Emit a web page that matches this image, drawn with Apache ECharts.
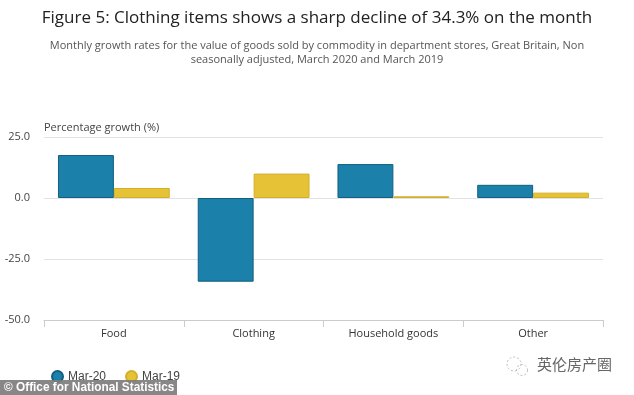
<!DOCTYPE html>
<html>
<head>
<meta charset="utf-8">
<script src="https://cdn.jsdelivr.net/npm/echarts@6/dist/echarts.min.js"></script>
<style>html,body{margin:0;padding:0;background:#fff}#c{width:634px;height:395px}</style>
</head>
<body>
<div id="c"></div>
<script>
var categories = ['Food', 'Clothing', 'Household goods', 'Other'];
var mar20 = [17.6, -34.3, 13.9, 5.4];
var mar19 = [4.1, 10.0, 0.7, 2.2];
var seriesNames = ['Mar-20', 'Mar-19'];
var yTicks = [-50, -25, 0, 25];

var chart = echarts.init(document.getElementById('c'));
var font = '"Open Sans", "Noto Sans", sans-serif';
chart.setOption({
  animation: false,
  textStyle: {fontFamily: font},
  title: [{
    text: 'Figure 5: Clothing items shows a sharp decline of 34.3% on the month',
    left: 'center', top: 5,
    textStyle: {fontSize: 17, fontWeight: 'normal', color: '#222', fontFamily: font}
  }, {
    text: 'Monthly growth rates for the value of goods sold by commodity in department stores, Great Britain, Non\nseasonally adjusted, March 2020 and March 2019',
    left: 'center', top: 34,
    textStyle: {fontSize: 11, fontWeight: 'normal', color: '#555', lineHeight: 14, fontFamily: font, align: 'center'}
  }],
  grid: {left: 44, right: 31, top: 137, bottom: 75, containLabel: false},
  legend: {
    data: seriesNames, left: 46, top: 365, icon: 'circle', itemWidth: 11, itemHeight: 11, itemGap: 19,
    textStyle: {fontSize: 12, color: '#444', fontFamily: '"Liberation Sans", Arial, sans-serif'}
  },
  xAxis: {
    type: 'category', data: categories,
    axisLine: {onZero: false, lineStyle: {color: '#ccc'}},
    axisTick: {show: true, length: 7, lineStyle: {color: '#ccc'}},
    axisLabel: {fontSize: 11, color: '#333', margin: 8}
  },
  yAxis: {
    type: 'value', min: yTicks[0], max: yTicks[yTicks.length - 1], interval: 25,
    name: 'Percentage growth (%)', nameLocation: 'end', nameGap: 4,
    nameTextStyle: {fontSize: 11, color: '#444', align: 'left', padding: [0, 0, 0, 0], verticalAlign: 'bottom'},
    axisLine: {show: false}, axisTick: {show: false},
    axisLabel: {fontSize: 11, color: '#444', margin: 14, formatter: function (v) { return v.toFixed(1); }},
    splitLine: {lineStyle: {color: '#e2e2e2'}}
  },
  series: [{
    name: seriesNames[0], type: 'bar', data: mar20, barGap: '0%', barCategoryGap: '20%',
    itemStyle: {color: '#1b80aa', borderColor: '#125f80', borderWidth: 1}
  }, {
    name: seriesNames[1], type: 'bar', data: mar19,
    itemStyle: {color: '#e6c236', borderColor: '#d4b02a', borderWidth: 1}
  }],
  graphic: [{
    type: 'rect', left: 0, top: 380, z: 100,
    shape: {width: 177, height: 15},
    style: {fill: 'rgba(125,125,125,0.92)'}
  }, {
    type: 'text', x: 4, y: 381, scaleX: 0.91, z: 101,
    style: {text: '© Office for National Statistics', fill: '#fff', font: 'bold 13px "Liberation Sans", Arial, sans-serif'}
  }, {
    type: 'text', left: 537, top: 357, z: 101,
    style: {text: '英伦房产圈', fill: '#666', font: '15px "Noto Sans CJK SC", sans-serif'}
  }, {
    type: 'circle', z: 101, shape: {cx: 514, cy: 364, r: 7},
    style: {fill: 'none', stroke: '#bbb', lineWidth: 1, lineDash: [2, 2]}
  }, {
    type: 'circle', z: 101, shape: {cx: 522, cy: 370, r: 5.5},
    style: {fill: 'none', stroke: '#bbb', lineWidth: 1, lineDash: [2, 2]}
  }]
});
</script>
</body>
</html>
